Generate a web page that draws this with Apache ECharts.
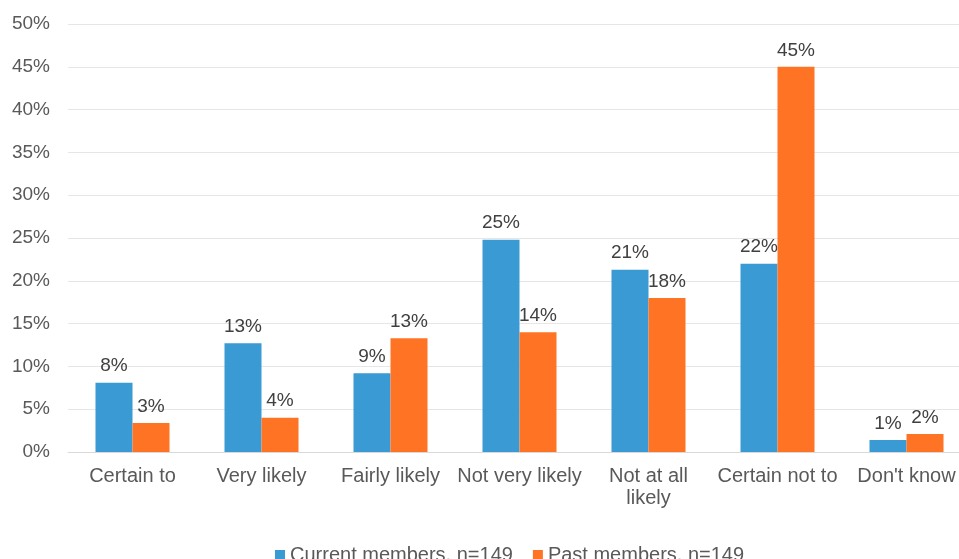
<!DOCTYPE html>
<html>
<head>
<meta charset="utf-8">
<script src="https://cdn.jsdelivr.net/npm/echarts@6/dist/echarts.min.js"></script>
<style>
  html, body { margin: 0; padding: 0; background: #ffffff; }
  #chart { width: 959px; height: 559px; }
</style>
</head>
<body>
<div id="chart"></div>
<script>
// Likelihood categories along the x axis
const categories = ['Certain to', 'Very likely', 'Fairly likely', 'Not very likely', 'Not at all\nlikely', 'Certain not to', "Don't know"];
// Share of respondents (%) in each group
const currentMembers = [8.1, 12.7, 9.2, 24.8, 21.3, 22.0, 1.4];
const pastMembers = [3.4, 4.0, 13.3, 14.0, 18.0, 45.0, 2.1];
const seriesNames = ['Current members, n=149', 'Past members, n=149'];
const yTicks = { min: 0, max: 50, interval: 5 };

const textColor = '#595959';
const font = 'Liberation Sans, Arial, sans-serif';

const chart = echarts.init(document.getElementById('chart'), null, { renderer: 'canvas' });

const labelStyle = {
  show: true,
  position: 'top',
  distance: 7,
  color: '#404040',
  fontSize: 19,
  fontFamily: font,
  formatter: p => Math.round(p.value) + '%'
};

chart.setOption({
  animation: false,
  backgroundColor: '#ffffff',
  textStyle: { fontFamily: font },
  grid: {
    left: 68, top: 24, width: 903, height: 428,
    containLabel: false,
    outerBoundsMode: 'none'
  },
  legend: {
    bottom: -11,
    left: 270,
    itemWidth: 10,
    itemHeight: 10,
    itemGap: 20,
    icon: 'rect',
    textStyle: { color: textColor, fontSize: 20, fontFamily: font },
    data: seriesNames
  },
  xAxis: {
    type: 'category',
    data: categories,
    axisTick: { show: false },
    axisLine: { show: true, lineStyle: { color: '#d9d9d9', width: 1 } },
    axisLabel: {
      color: textColor,
      fontSize: 20,
      fontFamily: font,
      margin: 13,
      lineHeight: 22,
      interval: 0
    }
  },
  yAxis: {
    type: 'value',
    min: yTicks.min,
    max: yTicks.max,
    interval: yTicks.interval,
    axisLine: { show: false },
    axisTick: { show: false },
    splitLine: { lineStyle: { color: '#e6e6e6', width: 1 } },
    axisLabel: {
      color: textColor,
      fontSize: 19,
      fontFamily: font,
      margin: 18,
      formatter: v => v + '%'
    }
  },
  series: [
    {
      name: seriesNames[0],
      type: 'bar',
      data: currentMembers,
      barWidth: 37,
      barGap: '0%',
      itemStyle: { color: '#3a9ad4' },
      label: labelStyle
    },
    {
      name: seriesNames[1],
      type: 'bar',
      data: pastMembers,
      barWidth: 37,
      barGap: '0%',
      itemStyle: { color: '#ff7424' },
      label: labelStyle
    }
  ]
});
</script>
</body>
</html>
